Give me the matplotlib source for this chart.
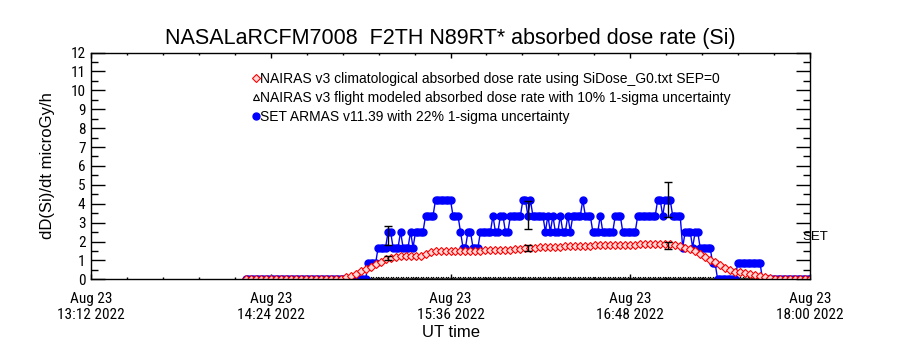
import matplotlib
matplotlib.use('Agg')
import matplotlib.pyplot as plt
import matplotlib.dates as mdates
from matplotlib.lines import Line2D
from matplotlib.ticker import FixedLocator, MultipleLocator
import numpy as np
import pandas as pd

# NAIRAS climatological dose rate, one value every 2 min from 14:14 UT
red_start = '2022-08-23 14:14'
nairas_clim = [0.0] * 20 + [
    0.10, 0.20, 0.30, 0.42, 0.55, 0.67, 0.80, 0.93, 1.05, 1.15,
    1.20, 1.23, 1.23, 1.23, 1.24, 1.25, 1.32, 1.42, 1.48, 1.48,
    1.49, 1.49, 1.50, 1.50, 1.50, 1.51, 1.52, 1.52, 1.53, 1.54,
    1.55, 1.55, 1.56, 1.57, 1.58, 1.62, 1.66, 1.67, 1.68, 1.69,
    1.70, 1.71, 1.72, 1.73, 1.74, 1.75, 1.76, 1.77, 1.78, 1.78,
    1.79, 1.80, 1.80, 1.81, 1.82, 1.82, 1.83, 1.84, 1.84, 1.85,
    1.85, 1.86, 1.86, 1.86, 1.86, 1.86, 1.84, 1.74, 1.66, 1.60,
    1.50, 1.32, 1.17, 1.03, 0.89, 0.75, 0.61, 0.49, 0.41, 0.37,
    0.33, 0.30, 0.25, 0.18, 0.12, 0.07, 0.03] + [0.0] * 7

# SET ARMAS dose rate, 1 min samples from 14:14 UT, stored as (level, run length)
armas_levels = [0, 0.84, 1.68, 2.52, 1.68, 2.52, 1.68, 2.52, 1.68, 2.52,
                3.36, 4.2, 3.36, 2.52, 1.68, 2.52, 1.68, 2.52, 3.36, 2.52,
                3.36, 2.52, 3.36, 4.2, 3.36, 4.2, 3.36, 2.52, 3.36, 2.52,
                3.36, 2.52, 3.36, 2.52, 3.36, 2.52, 3.36, 4.2, 3.36, 2.52,
                3.36, 2.52, 3.36, 2.52, 3.36, 4.2, 3.36, 4.2, 3.36, 1.68,
                2.52, 1.68, 2.52, 1.68, 0.84, 0, 0.84, 0]
armas_runs = [49, 4, 4, 2, 3, 1, 3, 1, 1, 4,
              4, 7, 3, 1, 2, 2, 3, 5, 1, 2,
              2, 2, 5, 2, 1, 1, 5, 1, 1, 1,
              1, 2, 1, 2, 1, 1, 4, 1, 3, 3,
              1, 5, 3, 6, 8, 2, 1, 3, 4, 1,
              3, 1, 2, 5, 2, 8, 10, 20]

# points with uncertainty bars
bar_times = ['2022-08-23 15:11', '2022-08-23 16:07', '2022-08-23 17:03']
flight_model = [1.13, 1.67, 1.81]
armas_mean = [2.30, 3.38, 4.20]

title = 'NASALaRCFM7008  F2TH N89RT* absorbed dose rate (Si)'
labels = ['NAIRAS v3 climatological absorbed dose rate using SiDose_G0.txt SEP=0',
          'NAIRAS v3 flight modeled absorbed dose rate with 10% 1-sigma uncertainty',
          'SET ARMAS v11.39 with 22% 1-sigma uncertainty']

armas = np.repeat(armas_levels, armas_runs)
t_armas = pd.date_range(red_start, periods=len(armas), freq='min')
t_clim = pd.date_range(red_start, periods=len(nairas_clim), freq='2min')
t_bar = pd.to_datetime(bar_times)
flight_zero = np.zeros(len(armas))

tick_font = ['Roboto Condensed', 'Noto Sans', 'DejaVu Sans']
text_font = ['Liberation Sans', 'DejaVu Sans']

fig = plt.figure(figsize=(9, 3.5), dpi=100)
ax = fig.add_axes([91 / 900, 1 - 279.3 / 350, 719 / 900, 226.8 / 350])

ax.plot(t_armas, flight_zero, ls='none', marker='^', ms=3.4, mfc='none',
        mec='black', mew=0.7)
ax.plot(t_armas, armas, color='blue', lw=1.0, marker='o', ms=5,
        mfc='blue', mec='blue')
ax.plot(t_clim, nairas_clim, ls='none', marker='D', ms=4.4, mfc='#ffd8d8',
        mec='red', mew=0.8)
ax.errorbar(t_bar, flight_model, yerr=[0.1 * v for v in flight_model], fmt='none',
            ecolor='black', elinewidth=1, capsize=3, capthick=1)
ax.errorbar(t_bar, armas_mean, yerr=[0.22 * v for v in armas_mean], fmt='none',
            ecolor='black', elinewidth=1, capsize=3, capthick=1)

ax.set_xlim(pd.Timestamp('2022-08-23 13:12'), pd.Timestamp('2022-08-23 18:00'))
ax.set_ylim(0, 12)

major = pd.date_range('2022-08-23 13:12', '2022-08-23 18:00', freq='72min')
minor = pd.date_range('2022-08-23 13:12', '2022-08-23 18:00', freq='864s')
ax.xaxis.set_major_locator(FixedLocator(mdates.date2num(major)))
ax.xaxis.set_minor_locator(FixedLocator(mdates.date2num(minor)))
ax.xaxis.set_major_formatter(mdates.DateFormatter('%b %d\n%H:%M %Y'))
ax.yaxis.set_major_locator(MultipleLocator(1))
ax.yaxis.set_minor_locator(MultipleLocator(0.5))

ax.tick_params(which='both', direction='in', top=True, right=True, color='black')
ax.tick_params(axis='x', which='major', length=3.3, width=1, pad=9)
ax.tick_params(axis='x', which='minor', length=1.7, width=1)
ax.tick_params(axis='y', which='major', length=10, width=1, pad=4)
ax.tick_params(axis='y', which='minor', length=5, width=1)
for lab in ax.get_xticklabels() + ax.get_yticklabels():
    lab.set_family(tick_font)
    lab.set_stretch('condensed')
    lab.set_fontsize(11)
ylabs = ax.get_yticklabels()
ylabs[0].set_va('bottom')
ylabs[-1].set_va('top')
for sp in ax.spines.values():
    sp.set_linewidth(1)

ax.set_title(title, family=text_font, fontsize=15.5, pad=6)
ax.set_ylabel('dD(Si)/dt microGy/h', family=text_font, fontsize=12, labelpad=11)
ax.set_xlabel('UT time', family=text_font, fontsize=12, labelpad=2)

handles = [Line2D([], [], ls='none', marker='D', ms=4, mfc='#ffd8d8', mec='red', mew=0.8),
           Line2D([], [], ls='none', marker='^', ms=4, mfc='none', mec='black', mew=0.8),
           Line2D([], [], ls='none', marker='o', ms=5, mfc='blue', mec='blue')]
ax.legend(handles, labels, loc='upper left', bbox_to_anchor=(0.225, 0.915),
          frameon=False, borderpad=0, borderaxespad=0, handlelength=0.4,
          handletextpad=0.15, labelspacing=0.35,
          prop={'family': text_font, 'size': 10})

ax.text(0.99, 0.187, 'SET', transform=ax.transAxes, ha='left', va='center',
        family=text_font, fontsize=9.5, clip_on=False)

fig.savefig('out.png', dpi=100)
